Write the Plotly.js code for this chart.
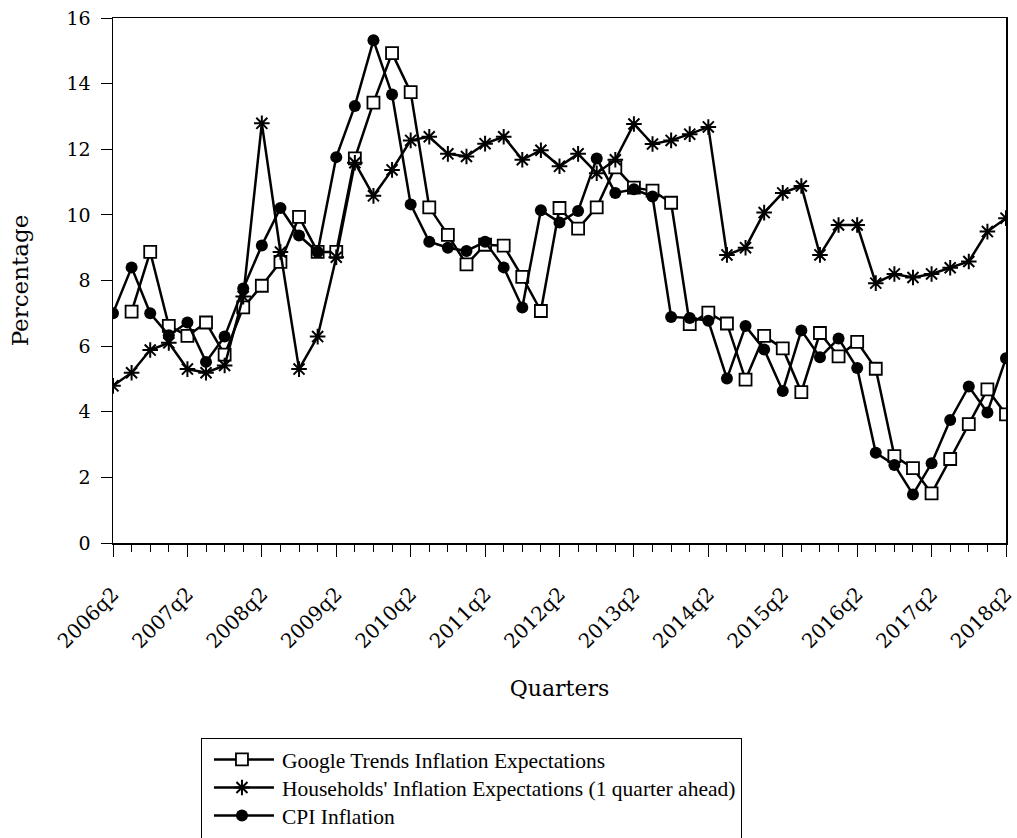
<!DOCTYPE html>
<html>
<head>
<meta charset="utf-8">
<script src="https://cdn.plot.ly/plotly-3.0.1.min.js"></script>
<style>html,body{margin:0;padding:0;background:#fff;}#chart{width:1017px;height:838px;}</style>
</head>
<body>
<div id="chart"></div>
<script>
const quarters = ["2006q2","2006q3","2006q4","2007q1","2007q2","2007q3","2007q4","2008q1","2008q2","2008q3","2008q4","2009q1","2009q2","2009q3","2009q4","2010q1","2010q2","2010q3","2010q4","2011q1","2011q2","2011q3","2011q4","2012q1","2012q2","2012q3","2012q4","2013q1","2013q2","2013q3","2013q4","2014q1","2014q2","2014q3","2014q4","2015q1","2015q2","2015q3","2015q4","2016q1","2016q2","2016q3","2016q4","2017q1","2017q2","2017q3","2017q4","2018q1","2018q2"];
const tickLabels = ["2006q2","2007q2","2008q2","2009q2","2010q2","2011q2","2012q2","2013q2","2014q2","2015q2","2016q2","2017q2","2018q2"];
const googleTrends = [null,7.05,8.87,6.62,6.31,6.72,5.74,7.18,7.84,8.57,9.94,8.87,8.87,11.72,13.42,14.93,13.74,10.23,9.39,8.49,9.09,9.06,8.11,7.07,10.21,9.58,10.23,11.45,10.83,10.74,10.37,6.67,7.02,6.69,4.98,6.31,5.93,4.60,6.40,5.69,6.13,5.31,2.65,2.28,1.51,2.56,3.62,4.68,3.92];
const households = [4.79,5.19,5.88,6.10,5.30,5.19,5.41,7.51,12.79,8.87,5.30,6.29,8.71,11.59,10.58,11.37,12.27,12.38,11.86,11.78,12.17,12.38,11.68,11.97,11.48,11.86,11.27,11.68,12.77,12.16,12.27,12.46,12.68,8.78,9.00,10.07,10.67,10.88,8.78,9.69,9.69,7.92,8.20,8.09,8.20,8.39,8.58,9.49,9.90];
const cpi = [7.00,8.40,7.00,6.33,6.72,5.52,6.29,7.76,9.07,10.21,9.37,8.87,11.76,13.32,15.32,13.67,10.32,9.18,9.00,8.90,9.18,8.40,7.18,10.14,9.77,10.12,11.72,10.67,10.78,10.56,6.89,6.86,6.77,5.01,6.61,5.90,4.63,6.48,5.66,6.23,5.33,2.75,2.38,1.48,2.43,3.75,4.77,3.98,5.63];

const FONT = "DejaVu Serif, Liberation Serif, serif";
const LEGEND_FONT = "Liberation Serif, DejaVu Serif, serif";
const traces = [
  {x: quarters, y: googleTrends, name: "Google Trends Inflation Expectations", type: "scatter", mode: "lines+markers",
   line: {color: "#000", width: 2.5}, marker: {symbol: "square", size: 12, color: "#fff", line: {color: "#000", width: 1.8}}},
  {x: quarters, y: households, name: "Households' Inflation Expectations (1 quarter ahead)", type: "scatter", mode: "lines+markers",
   line: {color: "#000", width: 2.5}, marker: {symbol: "asterisk-open", size: 13, color: "#000", line: {color: "#000", width: 2}}},
  {x: quarters, y: cpi, name: "CPI Inflation", type: "scatter", mode: "lines+markers",
   line: {color: "#000", width: 2.5}, marker: {symbol: "circle", size: 12, color: "#000"}}
];
const layout = {
  width: 1017, height: 838,
  margin: {l: 113, r: 11, t: 18, b: 295, autoexpand: false},
  paper_bgcolor: "#fff", plot_bgcolor: "#fff",
  font: {family: FONT, color: "#000", size: 19},
  showlegend: true,
  legend: {x: 0.0985, xanchor: "left", y: -0.3714, yanchor: "top", bordercolor: "#000", borderwidth: 1,
           font: {family: LEGEND_FONT, size: 21.5, color: "#000"}, tracegroupgap: 0, bgcolor: "#fff", itemwidth: 70},
  xaxis: {
    type: "category", categoryorder: "array", categoryarray: quarters,
    range: [0, quarters.length - 1], automargin: false,
    tickmode: "array", tickvals: tickLabels, ticktext: tickLabels, tickangle: -45,
    ticks: "outside", ticklen: 12, tickwidth: 1, tickcolor: "#000", ticklabelstandoff: 18,
    minor: {ticks: "outside", ticklen: 7, tickwidth: 1, tickcolor: "#000", dtick: 1},
    showline: true, linecolor: "#000", linewidth: 1.5, mirror: true, showgrid: false, zeroline: false,
    tickfont: {family: FONT, size: 20},
    title: {text: "Quarters", font: {family: FONT, size: 22}, standoff: 28}
  },
  yaxis: {
    range: [0, 16], tickmode: "linear", tick0: 0, dtick: 2, automargin: false,
    ticks: "outside", ticklen: 11, tickwidth: 1, tickcolor: "#000", ticklabelstandoff: 6,
    showline: true, linecolor: "#000", linewidth: 1.5, mirror: true, showgrid: false, zeroline: false,
    tickfont: {family: FONT, size: 19},
    title: {text: "Percentage", font: {family: FONT, size: 23}, standoff: 31}
  }
};
Plotly.newPlot("chart", traces, layout, {displayModeBar: false, staticPlot: true}).then(function (gd) {
  // legend sample style: longer lines, symbol centred, tighter rows as in the reference
  const items = gd.querySelectorAll('.legend .traces');
  let y0 = null;
  items.forEach(function (tr, i) {
    tr.querySelectorAll('.legendlines path').forEach(function (p) { p.setAttribute('d', 'M12,0h60'); });
    tr.querySelectorAll('.legendpoints path').forEach(function (p) {
      const t = p.getAttribute('transform') || '';
      p.setAttribute('transform', t.replace(/translate\(\s*20/, 'translate(42'));
    });
    const m = /translate\(\s*([-\d.]+)[ ,]+([-\d.]+)/.exec(tr.getAttribute('transform') || '');
    if (m) {
      if (y0 === null) y0 = parseFloat(m[2]);
      tr.setAttribute('transform', 'translate(' + m[1] + ',' + (y0 + i * 28) + ')');
    }
  });
});
</script>
</body>
</html>
